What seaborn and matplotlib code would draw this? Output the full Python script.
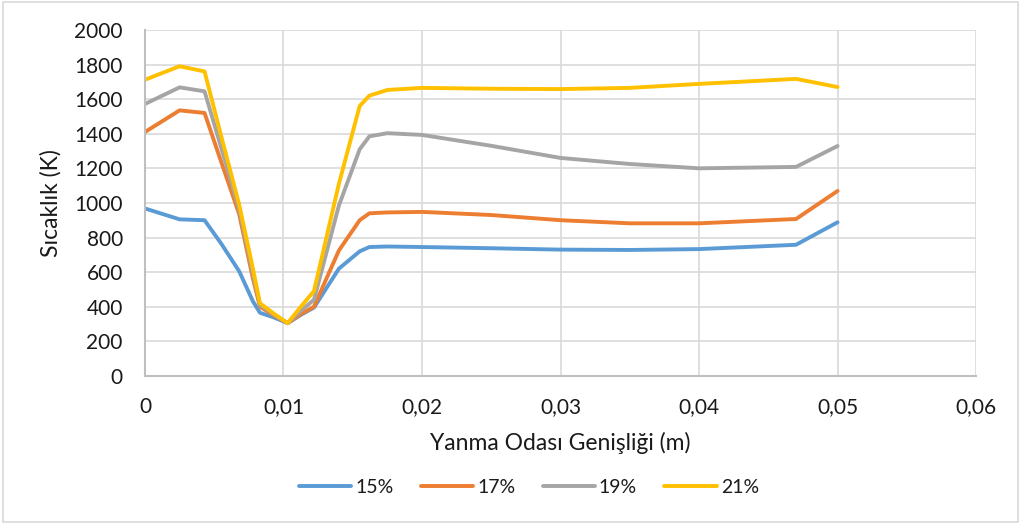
import matplotlib
matplotlib.use("Agg")
import matplotlib.pyplot as plt
import seaborn as sns
import pandas as pd
from matplotlib.patches import Rectangle
from matplotlib.lines import Line2D

x = [0, 0.0025, 0.0043, 0.0055, 0.0068, 0.0078, 0.0083, 0.0093, 0.0103, 0.0113,
     0.0122, 0.014, 0.0155, 0.0162, 0.0175, 0.02, 0.025, 0.03, 0.035, 0.04, 0.047, 0.05]
s15 = [968, 905, 900, 765, 605, 430, 365, 338, 305, 355, 395, 620, 720, 745, 748, 745, 738, 730, 728, 733, 758, 888]
s17 = [1410, 1535, 1520, 1238, 935, 560, 400, 350, 305, 360, 400, 725, 900, 940, 945, 948, 930, 900, 882, 882, 907, 1069]
s19 = [1572, 1668, 1645, 1320, 965, 590, 410, 355, 305, 380, 440, 985, 1310, 1385, 1403, 1393, 1330, 1260, 1225, 1200, 1208, 1329]
s21 = [1712, 1790, 1760, 1387, 990, 618, 420, 360, 305, 405, 490, 1110, 1560, 1620, 1653, 1665, 1660, 1658, 1665, 1688, 1717, 1670]
series_names = ["15%", "17%", "19%", "21%"]
colors = ["#5B9BD5", "#ED7D31", "#A5A5A5", "#FFC000"]
xticks = [0, 0.01, 0.02, 0.03, 0.04, 0.05, 0.06]
xtick_labels = ["0", "0,01", "0,02", "0,03", "0,04", "0,05", "0,06"]
yticks = list(range(0, 2001, 200))

rows = []
for name, vals in zip(series_names, [s15, s17, s19, s21]):
    for xi, v in zip(x, vals):
        rows.append({"x": xi, "T": v, "s": name})
df = pd.DataFrame(rows)

sns.set_theme(style="white")
plt.rcParams["font.family"] = ["Lato", "DejaVu Sans"]

txt = "#1a1a1a"
fig = plt.figure(figsize=(10.21, 5.25), dpi=100)
ax = fig.add_axes([0.142, 0.284, 0.814, 0.659])
sns.lineplot(data=df, x="x", y="T", hue="s", palette=colors, linewidth=2.8,
             ax=ax, sort=False, estimator=None, legend=False)

ax.set_xlim(0, 0.06)
ax.set_ylim(0, 2000)
ax.set_xticks(xticks)
ax.set_xticklabels(xtick_labels)
ax.set_yticks(yticks)
ax.tick_params(axis="both", length=0, labelsize=15, colors=txt)
ax.tick_params(axis="x", pad=15)
ax.tick_params(axis="y", pad=16)
ax.grid(True, color="#D9D9D9", linewidth=1.2)
ax.set_axisbelow(True)
for sp in ["top", "right"]:
    ax.spines[sp].set_visible(False)
for sp in ["left", "bottom"]:
    ax.spines[sp].set_color("#BFBFBF")
    ax.spines[sp].set_linewidth(1.5)

ax.set_xlabel("Yanma Odası Genişliği (m)", fontsize=16.5, color=txt, labelpad=11)
ax.set_ylabel("Sıcaklık (K)", fontsize=16.5, color=txt, labelpad=9)

handles = [Line2D([], [], color=c, linewidth=2.8) for c in colors]
fig.legend(handles, series_names, loc="center", bbox_to_anchor=(0.518, 0.072), ncol=4,
           frameon=False, fontsize=14, handlelength=2.7, handletextpad=0.2,
           columnspacing=1.4, labelcolor=txt)

fig.patches.append(Rectangle((0.003, 0.006), 0.994, 0.99, transform=fig.transFigure,
                             fill=False, edgecolor="#D9D9D9", linewidth=1.2))

fig.savefig("out.png", dpi=100)
